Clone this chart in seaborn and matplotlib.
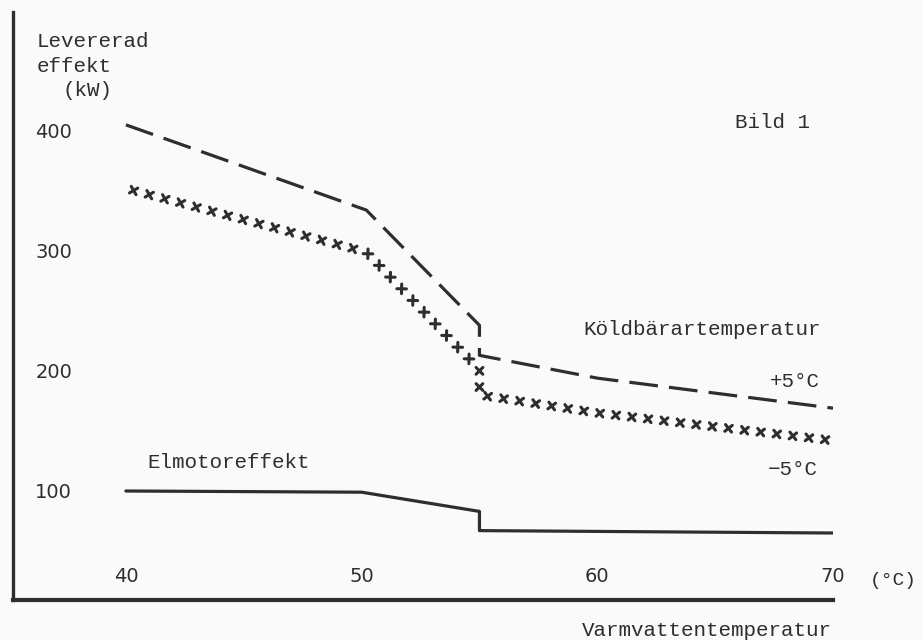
import numpy as np
import pandas as pd
import seaborn as sns
import matplotlib.pyplot as plt
from matplotlib import patheffects as pe

# Varmvattentemperatur (°C) mot levererad effekt (kW)
temp_plus5 = [40, 50.2, 55, 55, 60, 70]
effekt_plus5 = [405, 334, 238, 213, 194, 169]

temp_minus5 = [40, 50.2, 55, 55, 60, 70]
effekt_minus5 = [352, 299, 201, 180, 165, 142]

temp_motor = [40, 50, 55, 55, 70]
effekt_motor = [100, 99, 83, 67, 65]

x_ticks = [40, 50, 60, 70]
y_ticks = [100, 200, 300, 400]

W, H = 923, 640
INK = '#2e2e2e'
PAPER = '#fafafa'

sns.set_style('white')
plt.rcParams['font.family'] = ['Liberation Mono', 'DejaVu Sans Mono']

fig = plt.figure(figsize=(W / 100, H / 100), dpi=100, facecolor=PAPER)
# axes box placed in pixel terms: left spine at x=13, bottom spine at y=600
ax = fig.add_axes([13 / W, 1 - 600 / H, (833 - 13) / W, (600 - 12) / H])
ax.set_facecolor(PAPER)

# +5 °C: dashed
sns.lineplot(x=temp_plus5, y=effekt_plus5, estimator=None, sort=False, ax=ax,
             color=INK, lw=2.3, linestyle=(0, (9, 3.5)))

# -5 °C: row of small crosses
sns.lineplot(x=temp_minus5, y=effekt_minus5, estimator=None, sort=False, ax=ax,
             color=INK, lw=2.2)
crosses = [pe.TickedStroke(spacing=11.5, angle=a, length=0.3) for a in (45, 135, 225, 315)]
ax.lines[-1].set_path_effects(crosses)

# Elmotoreffekt: solid
sns.lineplot(x=temp_motor, y=effekt_motor, estimator=None, sort=False, ax=ax,
             color=INK, lw=2.3)

ax.set_xlim(35.21, 70)
ax.set_ylim(9.2, 499)
ax.set_xticks(x_ticks)
ax.set_yticks(y_ticks)
ax.set_xlabel('')
ax.set_ylabel('')

sns.despine(ax=ax)
ax.spines['left'].set_linewidth(2.4)
ax.spines['bottom'].set_linewidth(3.0)
for s in ('left', 'bottom'):
    ax.spines[s].set_color(INK)

ax.tick_params(axis='y', direction='in', length=6, width=2, pad=-16,
               labelsize=14, colors=INK, labelfontfamily='DejaVu Sans')
ax.tick_params(axis='x', direction='in', length=6, width=2, pad=-10,
               labelsize=14, colors=INK, labelfontfamily='DejaVu Sans')
plt.setp(ax.get_yticklabels(), ha='left')
plt.setp(ax.get_xticklabels(), va='bottom')


def label(x, y, s, size=15, **kw):
    # x, y in pixels from the top left corner, y is the text baseline
    fig.text(x / W, 1 - y / H, s, fontsize=size, color=INK, va='baseline', **kw)


label(37, 47, 'Levererad')
label(37, 72, 'effekt')
label(63, 96, '(kW)')
label(735, 128, 'Bild 1')
label(583, 335, 'Köldbärartemperatur')
label(770, 387, '+5°C')
label(768, 475, '−5°C')
label(147, 468, 'Elmotoreffekt')
label(832, 636, 'Varmvattentemperatur', ha='right')
label(917, 585, '(°C)', size=14, ha='right')

fig.savefig('out.png', dpi=100, facecolor=PAPER)
